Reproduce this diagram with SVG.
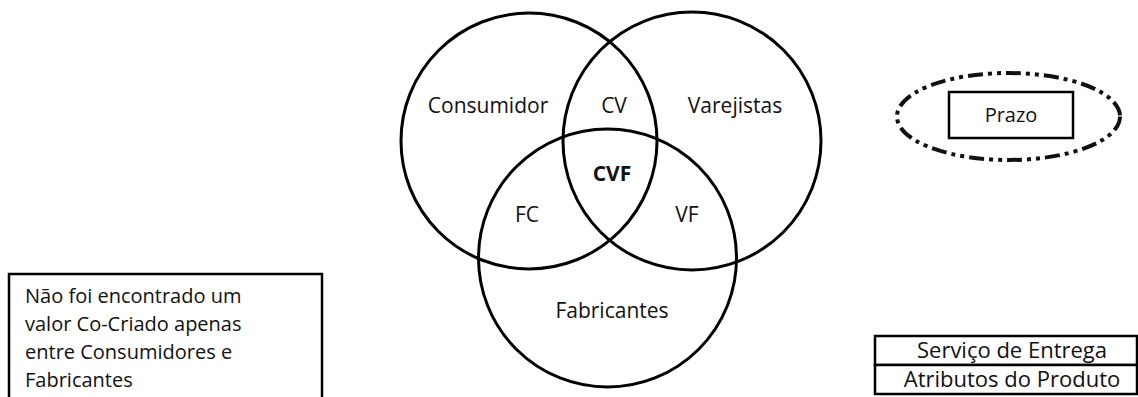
<svg xmlns="http://www.w3.org/2000/svg" width="1138" height="397" viewBox="0 0 1138 397">
<style>
text{font-family:"Open Sans","Noto Sans",sans-serif;font-size:20px;fill:#111;}
.v{font-size:21px;}
.r{font-size:22px;}
.c{fill:none;stroke:#000;stroke-width:3;}
.b{fill:#fff;stroke:#000;stroke-width:2.5;}
.m{text-anchor:middle;}
</style>
<rect width="1138" height="397" fill="#fff"/>
<g id="circles">
<circle id="consumidor" class="c" cx="529" cy="141" r="128"/>
<circle id="varejistas" class="c" cx="692" cy="141" r="129"/>
<circle id="fabricantes" class="c" cx="607.5" cy="258" r="129"/>
</g>
<g id="labels">
<text class="m v" x="488" y="113">Consumidor</text>
<text class="m v" x="614" y="113">CV</text>
<text class="m v" x="735" y="113">Varejistas</text>
<text class="m v" x="612" y="181" font-weight="bold">CVF</text>
<text class="m v" x="527" y="222">FC</text>
<text class="m v" x="687" y="222">VF</text>
<text class="m v" x="612" y="318">Fabricantes</text>
</g>
<g id="prazo">
<ellipse cx="1008.5" cy="116.5" rx="111.5" ry="43.5" fill="none" stroke="#111" stroke-width="4" stroke-dasharray="15 5 4 5 4 5"/>
<rect class="b" x="949" y="92" width="124" height="46"/>
<text class="m" x="1011" y="122">Prazo</text>
</g>
<g id="nota">
<rect class="b" x="9" y="274" width="313" height="130"/>
<text x="25" y="303">Não foi encontrado um</text>
<text x="25" y="331">valor Co-Criado apenas</text>
<text x="25" y="359">entre Consumidores e</text>
<text x="25" y="387">Fabricantes</text>
</g>
<g id="atributos">
<rect class="b" x="875" y="336" width="262" height="29"/>
<rect class="b" x="875" y="365" width="262" height="29"/>
<text class="m r" x="1012" y="358">Serviço de Entrega</text>
<text class="m r" x="1012" y="387">Atributos do Produto</text>
</g>
</svg>
